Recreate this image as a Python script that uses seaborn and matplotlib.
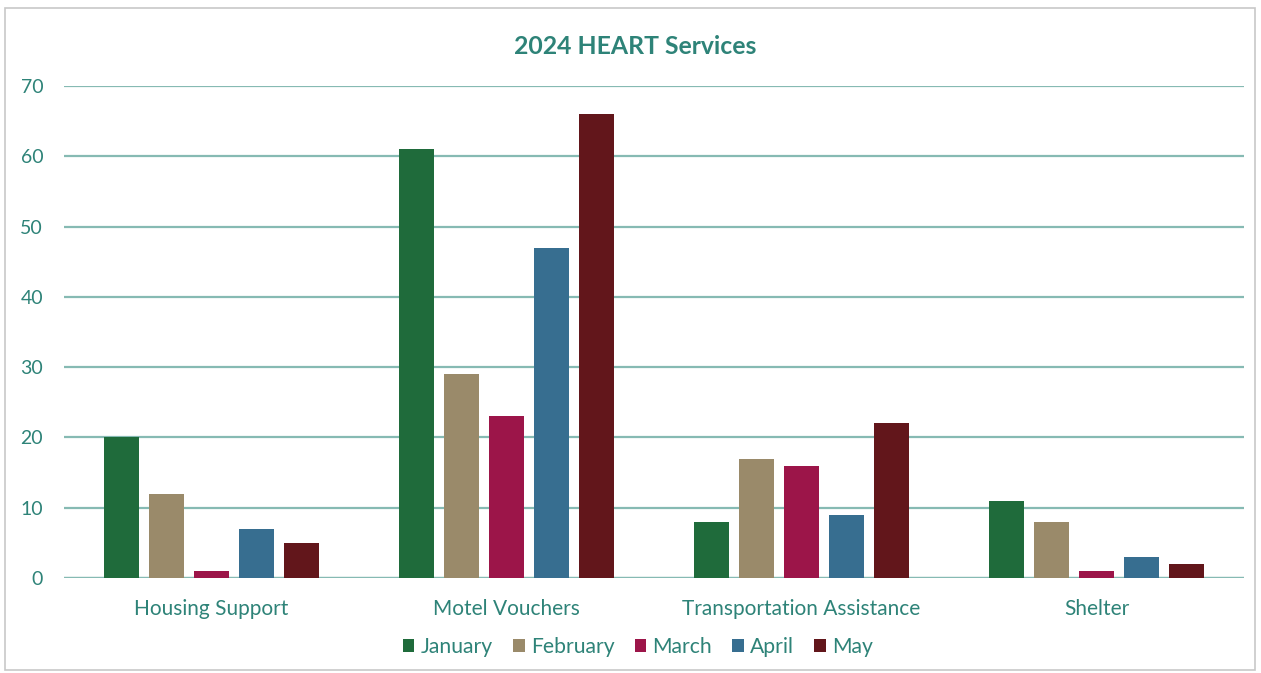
import matplotlib
matplotlib.use("Agg")
import matplotlib.pyplot as plt
import seaborn as sns
import pandas as pd
from matplotlib.patches import Rectangle, Patch

categories = ["Housing Support", "Motel Vouchers", "Transportation Assistance", "Shelter"]
months = ["January", "February", "March", "April", "May"]
january = [20, 61, 8, 11]
february = [12, 29, 17, 8]
march = [1, 23, 16, 1]
april = [7, 47, 9, 3]
may = [5, 66, 22, 2]
y_ticks = [0, 10, 20, 30, 40, 50, 60, 70]
colors = ["#1F6B3B", "#9A8A6A", "#9C1549", "#376E90", "#62161B"]

series = [january, february, march, april, may]
rows = []
for m, vals in zip(months, series):
    for c, v in zip(categories, vals):
        rows.append({"Category": c, "Month": m, "Value": v})
df = pd.DataFrame(rows)

sns.set_theme(style="white")
plt.rcParams['font.family'] = ['Lato', 'DejaVu Sans']
teal = "#2E8378"
grid_c = "#86BAB3"

fig = plt.figure(figsize=(12.61, 6.73), dpi=100)
fig.patch.set_facecolor("white")
ax = fig.add_axes([64/1261, 1-578/673, (1244-64)/1261, (578-86)/673])

sns.barplot(data=df, x="Category", y="Value", hue="Month", order=categories,
            hue_order=months, palette=colors, width=0.76, gap=0.22,
            saturation=1, ax=ax, legend=False, zorder=3,
            edgecolor="none", linewidth=0)

ax.set_ylim(0, 70)
ax.set_xlim(-0.5, 3.5)
ax.set_yticks(y_ticks)
ax.yaxis.grid(True, color=grid_c, linewidth=1.6, zorder=0)
ax.set_axisbelow(True)
for s in ax.spines.values():
    s.set_visible(False)
ax.axhline(0, color=grid_c, linewidth=1.6, zorder=2)
ax.tick_params(axis="both", length=0, colors=teal)
ax.tick_params(axis="y", labelsize=14, pad=15)
ax.tick_params(axis="x", labelsize=15, pad=15)
ax.set_xlabel("")
ax.set_ylabel("")

fig.text(635/1261, 1-46/673, "2024 HEART Services", ha="center", va="center",
         fontsize=17.8, fontweight="bold", color=teal)

handles = [Patch(facecolor=c, edgecolor="none") for c in colors]
fig.legend(handles, months, loc="center", bbox_to_anchor=(638/1261, 1-647/673),
           ncol=5, frameon=False, fontsize=15.2, labelcolor=teal,
           handlelength=0.55, handleheight=0.55, handletextpad=0.3, columnspacing=0.95)

fig.add_artist(Rectangle((5/1261, 3/673), 1250/1261, 662/673, transform=fig.transFigure,
                         fill=False, edgecolor="#C8C8C8", linewidth=1.2))

fig.savefig("out.png", dpi=100, facecolor="white")
